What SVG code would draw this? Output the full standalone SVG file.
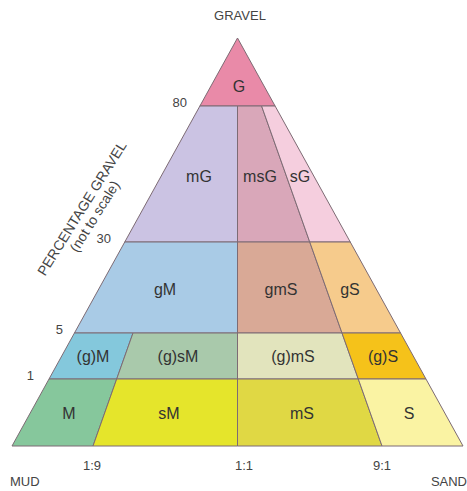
<svg xmlns="http://www.w3.org/2000/svg" width="467" height="491" viewBox="0 0 467 491">
<style>
.r{stroke:#7d6b74;stroke-width:1;stroke-linejoin:round}
.lb{font-family:"Liberation Sans",Arial,sans-serif;font-size:16px;fill:#333;text-anchor:middle}
.ax{font-family:"Liberation Sans",Arial,sans-serif;font-size:13px;fill:#444}
.rt{font-family:"Liberation Sans",Arial,sans-serif;font-size:14px;fill:#444;text-anchor:middle}
</style>
<rect width="467" height="491" fill="#fff"/>
<g id="G"><polygon class="r" fill="#e98aa8" points="237.5,38 275.1,106 199.9,106"/><text class="lb" x="239" y="92">G</text></g>
<g id="mG"><polygon class="r" fill="#cbc3e3" points="199.9,106 237.5,106 237.5,242 124.75,242"/><text class="lb" x="199" y="182">mG</text></g>
<g id="msG"><polygon class="r" fill="#d9a7b9" points="237.5,106 261.6,106 309.75,242 237.5,242"/><text class="lb" x="260" y="182">msG</text></g>
<g id="sG"><polygon class="r" fill="#f5cede" points="261.6,106 275.1,106 350.25,242 309.75,242"/><text class="lb" x="300" y="182">sG</text></g>
<g id="gM"><polygon class="r" fill="#a9cbe6" points="124.75,242 237.5,242 237.5,333 74.45,333"/><text class="lb" x="165" y="295">gM</text></g>
<g id="gmS"><polygon class="r" fill="#d9a996" points="237.5,242 309.75,242 342,333 237.5,333"/><text class="lb" x="281" y="295">gmS</text></g>
<g id="gS"><polygon class="r" fill="#f6cb8c" points="309.75,242 350.25,242 400.55,333 342,333"/><text class="lb" x="350" y="295">gS</text></g>
<g id="gM2"><polygon class="r" fill="#84c8dc" points="74.45,333 133,333 116.7,379 49.03,379"/><text class="lb" x="93" y="362">(g)M</text></g>
<g id="gsM"><polygon class="r" fill="#a9c9ab" points="133,333 237.5,333 237.5,379 116.7,379"/><text class="lb" x="178" y="362">(g)sM</text></g>
<g id="gmS2"><polygon class="r" fill="#e2e4bd" points="237.5,333 342,333 358.3,379 237.5,379"/><text class="lb" x="293" y="362">(g)mS</text></g>
<g id="gS2"><polygon class="r" fill="#f5c21a" points="342,333 400.55,333 425.97,379 358.3,379"/><text class="lb" x="383" y="362">(g)S</text></g>
<g id="M"><polygon class="r" fill="#86c79c" points="49.03,379 116.7,379 93,446 12,446"/><text class="lb" x="69" y="419">M</text></g>
<g id="sM"><polygon class="r" fill="#e5e52b" points="116.7,379 237.5,379 237.5,446 93,446"/><text class="lb" x="169" y="419">sM</text></g>
<g id="mS"><polygon class="r" fill="#e0d844" points="237.5,379 358.3,379 382,446 237.5,446"/><text class="lb" x="302" y="419">mS</text></g>
<g id="S"><polygon class="r" fill="#faf3a3" points="358.3,379 425.97,379 463,446 382,446"/><text class="lb" x="409" y="419">S</text></g>
<g id="axis">
<text class="ax" x="240" y="20" text-anchor="middle">GRAVEL</text>
<text class="ax" x="10" y="486">MUD</text>
<text class="ax" x="467" y="486" text-anchor="end">SAND</text>
<text class="ax" x="92" y="470" text-anchor="middle">1:9</text>
<text class="ax" x="244" y="470" text-anchor="middle">1:1</text>
<text class="ax" x="382" y="470" text-anchor="middle">9:1</text>
<text class="ax" x="187" y="107" text-anchor="end">80</text>
<text class="ax" x="111" y="243" text-anchor="end">30</text>
<text class="ax" x="63" y="334" text-anchor="end">5</text>
<text class="ax" x="34" y="380" text-anchor="end">1</text>
<g transform="translate(86,211) rotate(-58)">
<text class="rt" x="0" y="0">PERCENTAGE GRAVEL</text>
<text class="rt" x="0" y="15">(not to scale)</text>
</g>
</g>
</svg>
